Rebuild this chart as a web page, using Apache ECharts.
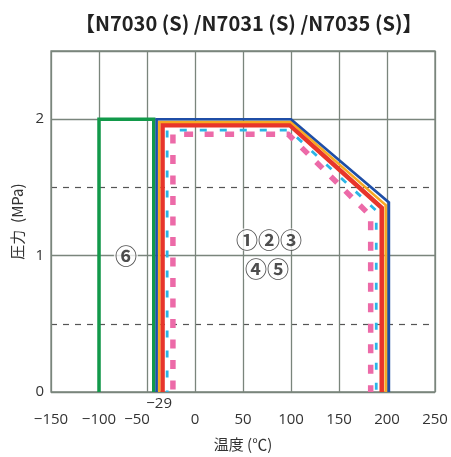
<!DOCTYPE html>
<html>
<head>
<meta charset="utf-8">
<script src="https://cdn.jsdelivr.net/npm/echarts@6/dist/echarts.min.js"></script>
<style>html,body{margin:0;padding:0;background:#fff}#c{width:451px;height:457px}</style>
</head>
<body>
<div id="c"></div>
<script>
// ---- data ----
const titleText = '【N7030 (S) /N7031 (S) /N7035 (S)】';
const xTicks = [-150, -100, -50, 0, 50, 100, 150, 200, 250];
const yTicks = [0, 1, 2];
const markerX = [-29];
// boundary paths [temperature, pressure]
const line6 = [[-100, 0], [-100, 2], [-43, 2], [-43, 0]];
const lineBlue = [[-40, 0], [-40, 2], [100, 2], [202, 1.39], [202, 0]];
const lineOrange = [[-37.4, 0], [-37.4, 1.98], [100, 1.98], [198.6, 1.37], [198.6, 0]];
const lineRed = [[-33.8, 0], [-33.8, 1.955], [99, 1.955], [194.5, 1.35], [194.5, 0]];
const lineCyan = [[-29, 0], [-29, 1.92], [98, 1.92], [188.8, 1.33], [188.8, 0]];
const linePink = [[-23, 0], [-23, 1.89], [97, 1.89], [183, 1.29], [183, 0]];
const annotations = [[77, 1.118, '①②③'], [75, 0.907, '④⑤'], [-72, 1.0, '⑥']];

const gridColor = '#7a857c';
const textColor = '#333';
const font = '"Open Sans", "Noto Sans", sans-serif';
const cjk = '"Noto Sans CJK JP", sans-serif';

const chart = echarts.init(document.getElementById('c'));
function lineSeries(data, color, width, type, offset, z) {
  return {
    type: 'line', data: data, symbol: 'none', silent: true, z: z,
    lineStyle: { color: color, width: width, type: type || 'solid', dashOffset: offset || 0, cap: 'butt', join: 'miter' },
    animation: false
  };
}
chart.setOption({
  animation: false,
  title: {
    text: titleText, left: 70, top: 8,
    textStyle: { fontFamily: cjk, fontSize: 20, fontWeight: 'bold', color: '#222' }
  },
  grid: { left: 51, right: 16, top: 51, bottom: 63, show: true, borderColor: gridColor, borderWidth: 1.3, backgroundColor: 'transparent' },
  xAxis: [{
    type: 'value', min: xTicks[0], max: xTicks[xTicks.length - 1], interval: 50,
    name: '温度 (℃)', nameLocation: 'middle', nameGap: 45,
    nameTextStyle: { fontFamily: cjk, fontSize: 15, color: textColor },
    axisLine: { show: false }, axisTick: { show: false },
    axisLabel: {
      margin: 20, fontFamily: font, fontSize: 15, color: textColor,
      formatter: v => v === -50 ? '{s|−50}' : (v < 0 ? '−' + Math.abs(v) : String(v)),
      rich: { s: { fontFamily: font, fontSize: 15, color: textColor, padding: [0, 20, 0, 0] } }
    },
    splitLine: { show: true, lineStyle: { color: gridColor, width: 1.3 } }
  }, {
    type: 'value', min: xTicks[0], max: xTicks[xTicks.length - 1], position: 'bottom',
    axisLine: { show: false }, axisTick: { show: false }, splitLine: { show: false },
    axisLabel: {
      customValues: markerX, margin: 4, fontFamily: font, fontSize: 15, color: textColor,
      formatter: v => '{s|−' + Math.abs(v) + '}',
      rich: { s: { fontFamily: font, fontSize: 15, color: textColor, padding: [0, 16, 0, 0] } }
    }
  }],
  yAxis: [{
    type: 'value', min: 0, max: 2.5, interval: 1,
    name: '圧力  (MPa)', nameLocation: 'middle', nameGap: 19, nameRotate: 90,
    nameTextStyle: { fontFamily: cjk, fontSize: 15, color: textColor },
    axisLine: { show: false }, axisTick: { show: false },
    axisLabel: { margin: 7, fontFamily: font, fontSize: 15, color: textColor,
      formatter: v => (yTicks.indexOf(v) >= 0 ? String(v) : '') },
    splitLine: { show: true, lineStyle: { color: gridColor, width: 1.3 } }
  }, {
    type: 'value', min: 0, max: 2.5, interval: 0.5, position: 'left',
    axisLine: { show: false }, axisTick: { show: false }, axisLabel: { show: false },
    splitLine: { show: true, lineStyle: { color: ['rgba(0,0,0,0)', '#555', 'rgba(0,0,0,0)', '#555', 'rgba(0,0,0,0)', 'rgba(0,0,0,0)'], width: 1.2, type: [6, 6] } }
  }],
  series: [
    lineSeries(line6, '#12994a', 3.5, 'solid', 0, 3),
    lineSeries(linePink, '#ec6aa8', 5.5, [9, 11.5], 18, 3),
    lineSeries(lineCyan, '#2bb5e6', 2.8, [7, 13], 5.5, 4),
    lineSeries(lineRed, '#e8352b', 4.5, 'solid', 0, 5),
    lineSeries(lineOrange, '#f7a823', 2.6, 'solid', 0, 6),
    lineSeries(lineBlue, '#1f4ea6', 2.6, 'solid', 0, 7),
    {
      type: 'scatter', data: annotations, symbolSize: 1, z: 10, silent: true,
      itemStyle: { color: 'rgba(0,0,0,0)' },
      label: {
        show: true, position: 'inside', formatter: p => p.data[2],
        fontFamily: cjk, fontSize: 22, fontWeight: 'bold', color: '#222',
        backgroundColor: '#fff', padding: [0, 1]
      }
    }
  ]
});
</script>
</body>
</html>
